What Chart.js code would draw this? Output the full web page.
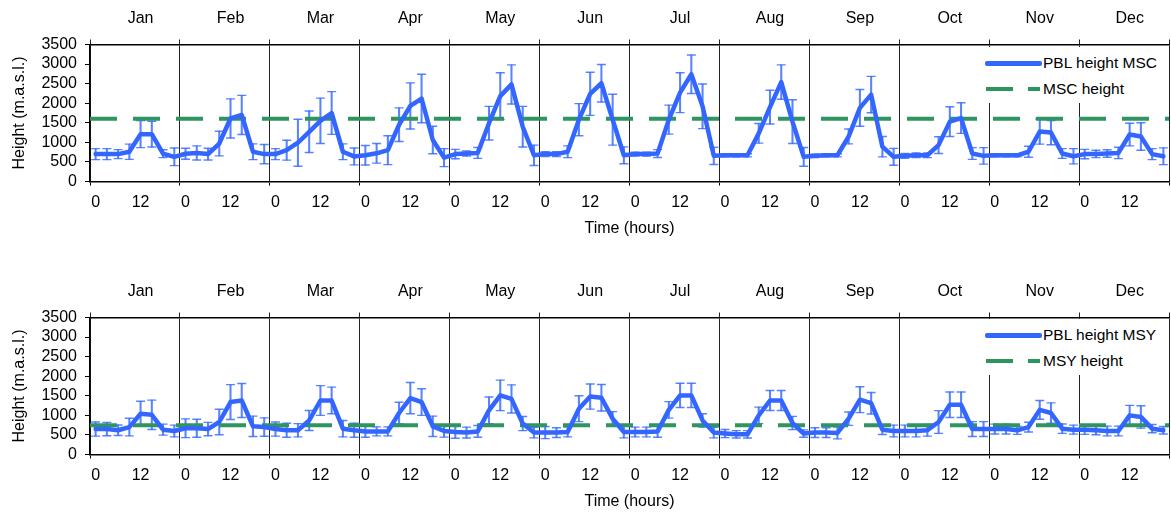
<!DOCTYPE html>
<html>
<head>
<meta charset="utf-8">
<script src="https://cdn.jsdelivr.net/npm/chart.js@4.4.1/dist/chart.umd.min.js"></script>
<style>
  html, body { margin: 0; padding: 0; background: #fff; overflow: hidden; }
  #wrap { position: relative; width: 1171px; height: 515px; }
  canvas { position: absolute; left: 0; }
  #c1 { top: 0; }
  #c2 { top: 273px; }
  .legend { position: absolute; left: 976px; width: 192px; height: 56px; background: #fff;
            font: 15.5px "Liberation Sans", Arial, sans-serif; color: #000; }
  .row { position: absolute; left: 0; width: 192px; height: 18px; line-height: 18px; white-space: nowrap; }
  .row .t { position: absolute; left: 67px; top: 0; }
  .solid { position: absolute; left: 9px; top: 7px; width: 57px; height: 4.5px; border-radius: 2px; background: #3366ff; }
  .dash { position: absolute; top: 7px; height: 4px; background: #2e9460; }
</style>
</head>
<body>
<div id="wrap">
  <canvas id="c1" width="1171" height="250"></canvas>
  <canvas id="c2" width="1171" height="250"></canvas>
  <div class="legend" style="top:47px">
    <div class="row" style="top:7px"><div class="solid"></div><span class="t">PBL height MSC</span></div>
    <div class="row" style="top:33px"><div class="dash" style="left:10px;width:27px"></div><div class="dash" style="left:52px;width:12px"></div><span class="t">MSC height</span></div>
  </div>
  <div class="legend" style="top:319px">
    <div class="row" style="top:7px"><div class="solid"></div><span class="t">PBL height MSY</span></div>
    <div class="row" style="top:33px"><div class="dash" style="left:10px;width:27px"></div><div class="dash" style="left:52px;width:12px"></div><span class="t">MSY height</span></div>
  </div>
</div>
<script>
const months = ["Jan", "Feb", "Mar", "Apr", "May", "Jun", "Jul", "Aug", "Sep", "Oct", "Nov", "Dec"];
// one label per 3-hour slot inside a month
const hourTicks = ["0", "", "", "", "12", "", "", ""];
const yTicks = [0, 500, 1000, 1500, 2000, 2500, 3000, 3500];

const mscSiteHeight = 1600;
const msySiteHeight = 750;

// PBL height at MSC, 8 values (00..21 h) per month
const pblMSC = [
  700, 700, 700, 760, 1210, 1210, 710, 630,
  710, 730, 700, 970, 1610, 1700, 760, 700,
  700, 800, 990, 1270, 1550, 1750, 760, 640,
  670, 720, 800, 1450, 1930, 2120, 1060, 610,
  700, 715, 730, 1490, 2180, 2480, 1400, 670,
  700, 700, 760, 1580, 2240, 2510, 1580, 670,
  700, 700, 715, 1580, 2270, 2740, 1920, 655,
  670, 670, 670, 1230, 1900, 2540, 1530, 630,
  655, 670, 670, 1150, 1880, 2220, 890, 630,
  655, 670, 670, 930, 1530, 1620, 715, 655,
  670, 670, 670, 760, 1275, 1250, 715, 645,
  700, 705, 715, 730, 1200, 1150, 700, 645
];
const errMSC = [
  140, 140, 115, 195, 345, 330, 100, 225,
  140, 180, 150, 315, 500, 500, 200, 245,
  140, 255, 600, 530, 580, 545, 200, 215,
  250, 250, 370, 430, 590, 620, 350, 230,
  120, 65, 140, 430, 600, 500, 520, 260,
  60, 60, 150, 410, 550, 480, 650, 215,
  50, 50, 100, 370, 510, 490, 570, 220,
  40, 40, 40, 250, 430, 440, 560, 240,
  40, 40, 40, 190, 470, 465, 260, 215,
  60, 60, 60, 215, 380, 390, 150, 210,
  40, 40, 40, 140, 320, 310, 125, 195,
  120, 95, 95, 145, 290, 350, 140, 215
];

// PBL height at MSY
const pblMSY = [
  650, 650, 620, 700, 1040, 1015, 635, 600,
  670, 670, 650, 830, 1340, 1380, 720, 700,
  650, 620, 620, 870, 1380, 1380, 660, 620,
  590, 590, 590, 1060, 1440, 1340, 720, 600,
  575, 560, 590, 1130, 1510, 1420, 790, 560,
  560, 560, 575, 1170, 1480, 1450, 915, 575,
  575, 575, 590, 1140, 1510, 1510, 870, 560,
  535, 515, 515, 1000, 1380, 1380, 805, 535,
  560, 560, 550, 915, 1400, 1310, 635, 600,
  600, 600, 620, 830, 1270, 1270, 650, 650,
  650, 650, 620, 700, 1140, 1060, 660, 635,
  635, 620, 600, 600, 1000, 960, 660, 620
];
const errMSY = [
  180, 170, 135, 225, 320, 375, 140, 150,
  240, 230, 170, 325, 445, 435, 260, 235,
  180, 180, 170, 255, 380, 340, 210, 180,
  150, 115, 115, 275, 400, 340, 260, 155,
  160, 140, 150, 340, 390, 360, 180, 135,
  155, 125, 125, 330, 320, 340, 180, 150,
  125, 125, 150, 210, 310, 310, 170, 135,
  105, 95, 95, 210, 255, 255, 170, 95,
  125, 125, 150, 170, 330, 275, 125, 150,
  150, 150, 150, 290, 325, 325, 190, 190,
  125, 125, 105, 125, 240, 260, 120, 115,
  120, 115, 125, 125, 255, 285, 105, 95
];

const font = { family: "'Liberation Sans', Arial, sans-serif", size: 16 };
const blue = "#3366ff";
const errBlue = "rgba(60,110,255,0.85)";
const green = "#2e9460";
const slots = months.length * hourTicks.length;
const clear = "rgba(0,0,0,0)";

const isBoundary = v => v % 8 === 0;

function bottomTickValues() {
  const t = [];
  for (let m = 0; m < months.length; m++) {
    t.push(m * 8);
    hourTicks.forEach((lab, i) => { if (lab) t.push(m * 8 + i + 0.5); });
  }
  t.push(slots);
  return t;
}
function topTickValues() {
  const t = [];
  months.forEach((m, k) => { t.push(k * 8); t.push(k * 8 + 4.5); });
  t.push(slots);
  return t;
}

// fixed axis sizes so the plot box lands where the original one is
function fixHeight(h) {
  return s => { s.height = h; s.paddingLeft = 0; s.paddingRight = 0; };
}

function panel(id, values, errs, siteHeight) {
  const pts = values.map((v, i) => ({ x: i + 0.5, y: v }));
  const bars = values.map((v, i) => ({ x: i + 0.5, y: [v - errs[i], v + errs[i]] }));
  const caps = values.map((v, i) => ({ x: i + 0.5, y: v - errs[i] }))
    .concat(values.map((v, i) => ({ x: i + 0.5, y: v + errs[i] })));

  new Chart(document.getElementById(id), {
    type: "line",
    data: {
      datasets: [
        { type: "line", data: pts, borderColor: blue, borderWidth: 4.5, pointRadius: 0,
          tension: 0, borderJoinStyle: "round", borderCapStyle: "round", order: 0 },
        { type: "line", data: [{ x: 0, y: siteHeight }, { x: slots, y: siteHeight }],
          borderColor: green, borderWidth: 4, borderDash: [27, 16], pointRadius: 0, order: 1 },
        { type: "bar", data: bars, backgroundColor: errBlue, barThickness: 1.4, order: 2 },
        { type: "line", data: caps, showLine: false, pointStyle: "line", pointRadius: 4.5,
          pointBorderWidth: 1.4, pointBorderColor: errBlue, pointBackgroundColor: errBlue, order: 2 }
      ]
    },
    options: {
      responsive: false,
      animation: false,
      events: [],
      layout: { autoPadding: false, padding: { left: 0, right: 2, top: 0, bottom: 0 } },
      plugins: { legend: { display: false }, tooltip: { enabled: false } },
      scales: {
        x: {
          type: "linear", position: "bottom", min: 0, max: slots, offset: false,
          afterBuildTicks: s => { s.ticks = bottomTickValues().map(v => ({ value: v })); },
          afterFit: fixHeight(68.5),
          ticks: {
            autoSkip: false, maxRotation: 0, minRotation: 0, padding: 7.5, color: "#000", font,
            callback: v => isBoundary(v) ? "" : hourTicks[Math.floor(v) % 8]
          },
          grid: {
            offset: false, drawOnChartArea: false, drawTicks: true, tickLength: 4,
            color: c => isBoundary(c.tick.value) ? "#000" : clear,
            tickColor: c => isBoundary(c.tick.value) ? "#000" : clear
          },
          border: { display: true, color: "#000", width: 1.5 },
          title: { display: true, text: "Time (hours)", color: "#000", font, padding: { top: 0, bottom: 11.4 } }
        },
        xt: {
          type: "linear", axis: "x", position: "top", min: 0, max: slots, offset: false,
          afterBuildTicks: s => { s.ticks = topTickValues().map(v => ({ value: v })); },
          afterFit: fixHeight(44.5),
          ticks: {
            autoSkip: false, maxRotation: 0, minRotation: 0, padding: 11.5, color: "#000", font,
            callback: v => isBoundary(v) ? "" : months[Math.floor(v / 8)]
          },
          grid: {
            offset: false, drawOnChartArea: true, drawTicks: true, tickLength: 5, lineWidth: 1,
            color: c => isBoundary(c.tick.value) ? "#222" : clear,
            tickColor: c => isBoundary(c.tick.value) ? "#222" : clear
          },
          border: { display: true, color: "#000", width: 1.5 }
        },
        y: {
          min: 0, max: 3500,
          afterBuildTicks: s => { s.ticks = yTicks.map(v => ({ value: v })); },
          afterFit: s => { s.width = 90; },
          ticks: { autoSkip: false, padding: 8, color: "#000", font, callback: v => String(v) },
          grid: { drawOnChartArea: false, drawTicks: true, tickLength: 5, color: "#000", tickColor: "#000" },
          border: { display: true, color: "#000", width: 1.5 },
          title: { display: true, text: "Height (m.a.s.l.)", color: "#000", font, padding: { top: 10.4, bottom: 0 } }
        }
      }
    }
  });
}

panel("c1", pblMSC, errMSC, mscSiteHeight);
panel("c2", pblMSY, errMSY, msySiteHeight);
</script>
</body>
</html>
